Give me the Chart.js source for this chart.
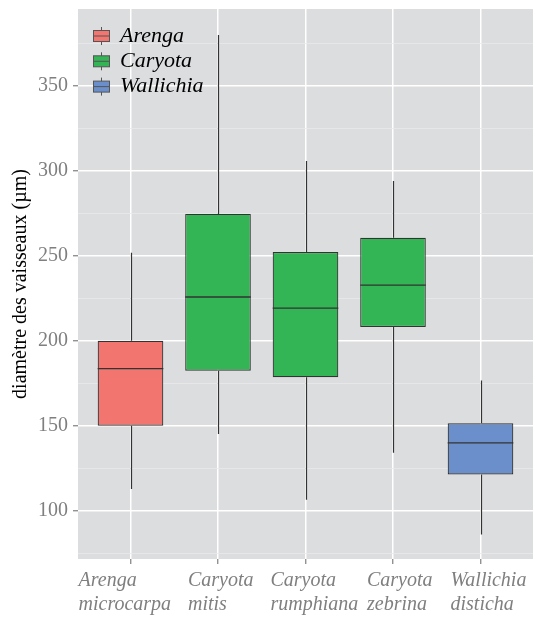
<!DOCTYPE html>
<html>
<head>
<meta charset="utf-8">
<script src="https://cdn.jsdelivr.net/npm/chart.js@4"></script>
<style>
  html, body { margin: 0; padding: 0; background: #ffffff; }
  #wrap { width: 535px; height: 622px; }
</style>
</head>
<body>
<div id="wrap"><canvas id="grafico"></canvas></div>
<script>
// -------------------- Dados --------------------
const especies = [
  ['Arenga', 'microcarpa'],
  ['Caryota', 'mitis'],
  ['Caryota', 'rumphiana'],
  ['Caryota', 'zebrina'],
  ['Wallichia', 'disticha']
];
const genero = ['Arenga', 'Caryota', 'Caryota', 'Caryota', 'Wallichia'];
const grupos = ['Arenga', 'Caryota', 'Wallichia'];
const coresGrupos = ['#F2766F', '#33B455', '#6A8FCB'];

const bigodeMin = [112.8, 145.2, 106.4, 134.2, 86];
const q1 = [150, 182.4, 178.6, 208.2, 121.4];
const mediana = [183.6, 225.8, 219.3, 232.8, 139.9];
const q3 = [200, 274.7, 252.3, 260.6, 151.5];
const bigodeMax = [251.8, 380, 305.8, 294, 176.6];

const ticksY = [75, 100, 125, 150, 175, 200, 225, 250, 275, 300, 325, 350, 375];

// deslocamento horizontal dos rótulos do eixo x (px, a partir do tick)
const deslocRotulos = [-52, -30, -35, -26, -30];

const fonte = 'Liberation Serif';
const fundoPainel = '#DCDDDF';
const corLinha = '#333333';

// -------------------- Plugins --------------------
const painelFundo = {
  id: 'painelFundo',
  beforeDraw(chart) {
    const { ctx, chartArea: a } = chart;
    ctx.save();
    ctx.fillStyle = fundoPainel;
    ctx.fillRect(a.left, a.top, a.right - a.left, a.bottom - a.top);
    ctx.restore();

    // rótulos do eixo x alinhados à esquerda, como no original
    const itens = chart.scales.x.getLabelItems(a);
    itens.forEach((it, i) => {
      const px = chart.scales.x.getPixelForValue(i + 1);
      it.options.translation[0] = px + deslocRotulos[i];
    });
  }
};

// bigodes por baixo das caixas, medianas por cima
const caixas = {
  id: 'caixas',
  beforeDatasetsDraw(chart) {
    const { ctx, scales: { x, y } } = chart;
    ctx.save();
    ctx.strokeStyle = corLinha;
    ctx.lineWidth = 1.2;
    especies.forEach((_, i) => {
      const px = Math.round(x.getPixelForValue(i + 1)) + 0.5;
      ctx.beginPath();
      ctx.moveTo(px, y.getPixelForValue(bigodeMax[i]));
      ctx.lineTo(px, y.getPixelForValue(q3[i]));
      ctx.moveTo(px, y.getPixelForValue(q1[i]));
      ctx.lineTo(px, y.getPixelForValue(bigodeMin[i]));
      ctx.stroke();
    });
    ctx.restore();
  },
  afterDatasetsDraw(chart) {
    const { ctx, scales: { y } } = chart;
    const meta = chart.getDatasetMeta(0);
    ctx.save();
    ctx.strokeStyle = corLinha;
    ctx.lineWidth = 1.3;
    meta.data.forEach((bar, i) => {
      const py = y.getPixelForValue(mediana[i]);
      ctx.beginPath();
      ctx.moveTo(bar.x - bar.width / 2, py);
      ctx.lineTo(bar.x + bar.width / 2, py);
      ctx.stroke();
    });
    ctx.restore();
  }
};

// legenda dentro do painel, estilo ggplot
const legendaPainel = {
  id: 'legendaPainel',
  afterDraw(chart) {
    const { ctx, chartArea: a } = chart;
    ctx.save();
    ctx.font = `italic 22px "${fonte}"`;
    ctx.textBaseline = 'middle';
    grupos.forEach((g, i) => {
      const cy = a.top + 27 + i * 25.3;
      const kx = a.left + 15;
      // haste
      ctx.strokeStyle = '#555555';
      ctx.lineWidth = 1;
      ctx.beginPath();
      ctx.moveTo(kx + 8.5, cy - 9);
      ctx.lineTo(kx + 8.5, cy + 9);
      ctx.stroke();
      // caixa
      ctx.fillStyle = coresGrupos[i];
      ctx.fillRect(kx, cy - 5.5, 17, 11);
      ctx.strokeRect(kx + 0.5, cy - 5.5, 16, 11);
      ctx.beginPath();
      ctx.moveTo(kx, cy);
      ctx.lineTo(kx + 17, cy);
      ctx.stroke();
      ctx.fillStyle = '#000000';
      ctx.fillText(g, a.left + 42, cy);
    });
    ctx.restore();
  }
};

// -------------------- Gráfico --------------------
const ctx = document.getElementById('grafico').getContext('2d');

new Chart(ctx, {
  type: 'bar',
  data: {
    datasets: [{
      data: especies.map((_, i) => ({ x: i + 1, y: [q1[i], q3[i]] })),
      backgroundColor: genero.map(g => coresGrupos[grupos.indexOf(g)]),
      borderColor: corLinha,
      borderWidth: 1.2,
      borderSkipped: false,
      categoryPercentage: 1,
      barPercentage: 0.75
    }]
  },
  plugins: [painelFundo, caixas, legendaPainel],
  options: {
    responsive: true,
    maintainAspectRatio: false,
    animation: false,
    layout: { padding: { top: 9, right: 2, left: 0, bottom: 0 } },
    plugins: {
      legend: { display: false },
      tooltip: { enabled: false }
    },
    scales: {
      x: {
        type: 'linear',
        min: 0.4,
        max: 5.6,
        offset: false,
        afterBuildTicks: s => { s.ticks = especies.map((_, i) => ({ value: i + 1 })); },
        afterFit: s => { s.height = 63; s.paddingLeft = 0; s.paddingRight = 0; },
        border: { display: false },
        grid: {
          offset: false,
          color: '#FFFFFF',
          lineWidth: 1.5,
          tickColor: '#7F7F7F',
          tickWidth: 1.2,
          tickLength: 5
        },
        ticks: {
          color: '#7F7F7F',
          padding: 5,
          align: 'start',
          maxRotation: 0,
          autoSkip: false,
          font: { family: fonte, size: 20, style: 'italic', lineHeight: 1.2 },
          callback: v => especies[v - 1]
        }
      },
      y: {
        min: 71.6,
        max: 395.3,
        afterBuildTicks: s => { s.ticks = ticksY.map(v => ({ value: v })); },
        afterFit: s => { s.width = 78; s.paddingTop = 0; s.paddingBottom = 0; },
        border: { display: false },
        grid: {
          color: c => (c.tick && c.tick.value % 50 === 0) ? '#FFFFFF' : '#EAEAEB',
          lineWidth: c => (c.tick && c.tick.value % 50 === 0) ? 1.5 : 0.8,
          tickColor: c => (c.tick && c.tick.value % 50 === 0) ? '#7F7F7F' : 'rgba(0,0,0,0)',
          tickWidth: 1.2,
          tickLength: 5
        },
        ticks: {
          color: '#7F7F7F',
          padding: 5,
          autoSkip: false,
          font: { family: fonte, size: 20 },
          callback: v => (v % 50 === 0 ? v : '')
        },
        title: {
          display: true,
          text: 'diamètre des vaisseaux (µm)',
          color: '#000000',
          font: { family: fonte, size: 20 },
          padding: { top: 9, bottom: 0 }
        }
      }
    }
  }
});
</script>
</body>
</html>
